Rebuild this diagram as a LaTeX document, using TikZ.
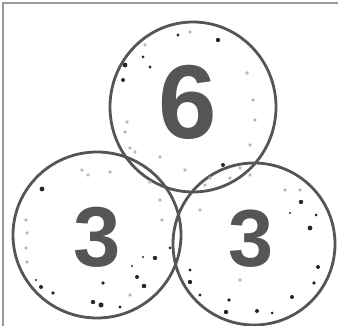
\documentclass[tikz,border=0pt]{standalone}
\usepackage{fontspec}
\setmainfont{Liberation Sans}
\definecolor{ink}{HTML}{555555}
\definecolor{speck}{HTML}{B8B8B8}
\begin{document}
\begin{tikzpicture}[x=1pt,y=-1pt,
  bond/.style={draw=ink,line width=2.8pt},
  num/.style={text=ink,font=\bfseries,inner sep=0pt},
  bdot/.style={fill=black!85},
  gdot/.style={fill=speck}]
\useasboundingbox (0,0) rectangle (338,326);
% frame
\draw[draw=ink!60,line width=1.5pt] (3,326) -- (3,3) -- (338,3);
% circles
\draw[bond] (193,107) ellipse [x radius=83, y radius=85];
\draw[bond] (97,235) ellipse [x radius=84, y radius=83];
\draw[bond] (254,244) ellipse [x radius=81, y radius=81];
% numbers
\node[num,font=\fontsize{105}{105}\bfseries\selectfont] (six) at (188,102) {6};
\node[num,font=\fontsize{85}{85}\bfseries\selectfont] (threeL) at (97,237) {3};
\node[num,font=\fontsize{81}{81}\bfseries\selectfont] (threeR) at (251,239) {3};
% grey speckles
\foreach \p in {(145,45),(190,32),(247,73),(253,100),(255,120),(250,145),(127,122),(125,132),(135,152),(160,157),(185,170),(210,178),(240,168),(130,148),
  (82,170),(110,172),(150,182),(160,200),(162,220),(26,220),(27,233),(26,248),(27,262),(130,295),(88,175),
  (205,185),(230,178),(250,175),(200,210),(240,280),(300,190),(285,190)}
  \fill[gdot] \p circle (1.8);
% black speckles
\foreach \p/\r in {(178,35)/1.6,(218,40)/2.2,(125,65)/2.4,(123,80)/2,(143,57)/1.5,(150,67)/1.6,(223,165)/2,
  (42,189)/2.4,(155,258)/2.2,(170,248)/1.5,(137,277)/2,(144,286)/2.3,(103,283)/1.8,(41,287)/2,(53,293)/1.8,(93,302)/2.2,(101,305)/2.5,(120,307)/1.6,(36,280)/1.2,(143,257)/1.2,(132,266)/1.2,
  (301,202)/2.2,(310,228)/2.4,(318,267)/2,(314,283)/1.8,(292,297)/2,(190,282)/2.2,(190,270)/1.6,(200,295)/1.6,(229,300)/1.8,(226,312)/2.2,(257,311)/2,(272,313)/1.5,(316,215)/1.5,(290,213)/1.1}
  \fill[bdot] \p circle (\r);
\end{tikzpicture}
\end{document}
